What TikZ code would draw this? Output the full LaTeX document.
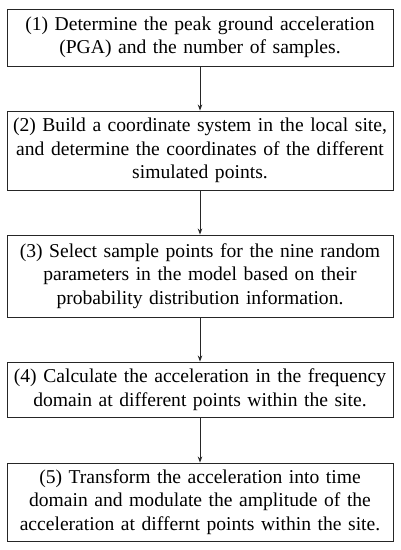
\documentclass[tikz,border=0pt]{standalone}
\usepackage{fontspec}
\setmainfont{Liberation Serif}
\usetikzlibrary{arrows.meta}
\begin{document}
\begin{tikzpicture}[x=1pt,y=1pt,
  stepbox/.style={draw=black!85,line width=0.9pt,minimum width=386pt,inner sep=0pt,
    text width=384pt,align=center,font=\fontsize{19.6}{23.5}\selectfont},
  flow/.style={draw=black!85,line width=0.9pt,-{Stealth[length=6pt,width=4.5pt]}}]
\useasboundingbox (0,0) rectangle (401,-550);
\node[stepbox,minimum height=57pt] (s1) at (200,-37.5) {(1) Determine the peak ground acceleration\\(PGA) and the number of samples.};
\node[stepbox,minimum height=79pt] (s2) at (200,-150.5) {(2) Build a coordinate system in the local site,\\and determine the coordinates of the different\\simulated points.};
\node[stepbox,minimum height=82pt] (s3) at (200,-276) {(3) Select sample points for the nine random\\parameters in the model based on their\\probability distribution information.};
\node[stepbox,minimum height=55pt] (s4) at (200,-389.5) {(4) Calculate the acceleration in the frequency\\domain at different points within the site.};
\node[stepbox,minimum height=78pt] (s5) at (200,-502) {(5) Transform the acceleration into time\\domain and modulate the amplitude of the\\acceleration at differnt points within the site.};
\draw[flow] (s1) -- (s2);
\draw[flow] (s2) -- (s3);
\draw[flow] (s3) -- (s4);
\draw[flow] (s4) -- (s5);
\end{tikzpicture}
\end{document}
